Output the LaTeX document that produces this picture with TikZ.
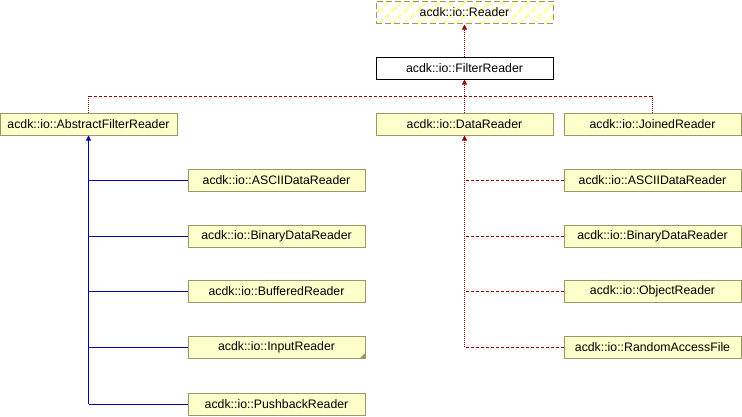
\documentclass[tikz,border=0pt]{standalone}
\usepackage{fontspec}
\setmainfont{Liberation Sans}
\usetikzlibrary{arrows.meta,patterns,patterns.meta}
\definecolor{boxfill}{HTML}{FFFFCC}
\definecolor{boxline}{HTML}{999966}
\definecolor{hatch}{HTML}{FFFFA8}
\definecolor{inh}{HTML}{990000}
\definecolor{pub}{HTML}{000099}
\definecolor{corner}{HTML}{999966}
\tikzset{
  cls/.style={draw=boxline, fill=boxfill, line width=1pt, minimum width=177pt, minimum height=22pt,
    inner sep=0pt, font=\fontsize{12.3}{14}\selectfont},
  focus/.style={draw=black, fill=white, line width=1pt, minimum width=177pt, minimum height=22pt,
    inner sep=0pt, font=\fontsize{12.3}{14}\selectfont},
  ext/.style={draw=boxline, dash pattern=on 6pt off 3pt, line width=1pt, minimum width=177pt, minimum height=22pt,
    inner sep=0pt, font=\fontsize{12.3}{14}\selectfont,
    pattern={Lines[angle=45,distance=9pt,line width=3pt]}, pattern color=hatch},
  redv/.style={draw=inh, line width=1pt, dash pattern=on 1pt off 1pt},
  redh/.style={draw=inh, line width=1pt, dash pattern=on 3pt off 2pt},
  bluel/.style={draw=pub, line width=1pt},
  tipred/.style={-{Triangle[length=5pt,width=5pt,fill=inh]}},
  tipblue/.style={-{Triangle[length=5pt,width=5pt,fill=pub]}},
}
\begin{document}
\begin{tikzpicture}[x=1pt,y=1pt]
\useasboundingbox (0,0) rectangle (742,-416);
\node[ext] (rd) at (464.5,-12) {acdk::io::Reader};
\node[focus] (fr) at (464.5,-68) {acdk::io::FilterReader};
\node[cls] (afr) at (88.5,-124) {acdk::io::AbstractFilterReader};
\node[cls] (dr) at (464.5,-124) {acdk::io::DataReader};
\node[cls] (jr) at (652.5,-124) {acdk::io::JoinedReader};
\node[cls] (a1) at (276.5,-180) {acdk::io::ASCIIDataReader};
\node[cls] (a2) at (276.5,-236) {acdk::io::BinaryDataReader};
\node[cls] (a3) at (276.5,-291) {acdk::io::BufferedReader};
\node[cls] (a4) at (276.5,-347) {acdk::io::InputReader};
\node[cls] (a5) at (276.5,-404) {acdk::io::PushbackReader};
\node[cls] (d1) at (652.5,-180) {acdk::io::ASCIIDataReader};
\node[cls] (d2) at (652.5,-236) {acdk::io::BinaryDataReader};
\node[cls] (d3) at (652.5,-291) {acdk::io::ObjectReader};
\node[cls] (d4) at (652.5,-347) {acdk::io::RandomAccessFile};
% folded corner on InputReader
\fill[corner] (a4.south east) -- ++(-6,0) -- ++(6,6) -- cycle;
\coordinate (bus) at (464.5,-96);
% FilterReader -> Reader
\draw[redv,tipred] (fr.north) -- (rd.south);
% children of FilterReader
\draw[redh] (afr.north |- bus) -- (jr.north |- bus);
\draw[redv] (afr.north) -- (afr.north |- bus);
\draw[redv] (jr.north) -- (jr.north |- bus);
\draw[redv] (dr.north) -- (bus);
\draw[redv,tipred] (bus) -- (fr.south);
% AbstractFilterReader children
\draw[bluel,tipblue] (afr.south |- a5.west) -- (afr.south);
\foreach \n in {a1,a2,a3,a4,a5}
  \draw[bluel] (\n.west) -- (afr.south |- \n.west);
% DataReader children
\draw[redv,tipred] (dr.south |- d4.west) -- (dr.south);
\foreach \n in {d1,d2,d3,d4}
  \draw[redh] (\n.west) -- (dr.south |- \n.west);
\end{tikzpicture}
\end{document}
